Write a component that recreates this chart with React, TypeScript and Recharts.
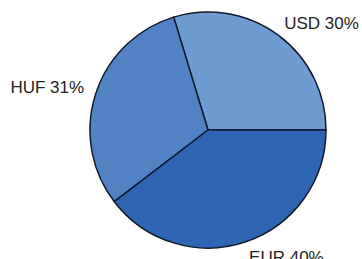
import { PieChart, Pie, Cell } from "recharts";

const currencies = ["USD", "HUF", "EUR"];
const shares = [30, 31, 40];
const COLORS = ["#6e9bd2", "#5082c4", "#2e66b4"];

const chartData = currencies.map((name, i) => ({ name, value: shares[i] }));

const RAD = Math.PI / 180;

function renderLabel(props: any) {
  const { cx, cy, midAngle, outerRadius, name, value } = props;
  const r = outerRadius + 10;
  const cos = Math.cos(-midAngle * RAD);
  const sin = Math.sin(-midAngle * RAD);
  const x = cx + r * cos;
  const y = cy + r * sin;
  return (
    <text
      x={cos >= 0 ? x : x - 2}
      y={sin < 0 ? y + 2 : y}
      textAnchor={cos >= 0 ? "start" : "end"}
      dominantBaseline={sin < 0 ? "auto" : "hanging"}
      fontFamily="'Liberation Sans', Arial, sans-serif"
      fontSize={17}
      fill="#222"
    >
      {`${name} ${value}%`}
    </text>
  );
}

export default function App() {
  return (
    <div style={{ position: "absolute", left: 0, top: 0, background: "#fff" }}>
      <PieChart width={362} height={259} margin={{ top: 0, right: 0, bottom: 0, left: 0 }}>
        <Pie
          data={chartData}
          dataKey="value"
          cx={208}
          cy={130}
          outerRadius={118}
          startAngle={0}
          endAngle={360}
          stroke="#101a2c"
          strokeWidth={1.5}
          label={renderLabel}
          labelLine={false}
          isAnimationActive={false}
        >
          {chartData.map((_, i) => (
            <Cell key={i} fill={COLORS[i]} />
          ))}
        </Pie>
      </PieChart>
    </div>
  );
}
